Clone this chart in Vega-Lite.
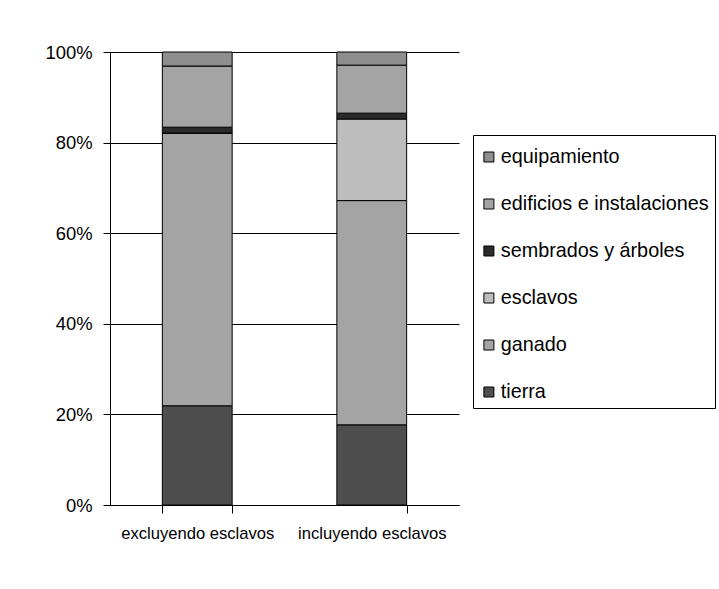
{
  "$schema": "https://vega.github.io/schema/vega-lite/v6.json",
  "width": 349,
  "height": 453,
  "autosize": "none",
  "padding": {"left": 110, "top": 52, "right": 260, "bottom": 84},
  "background": "white",
  "config": {
    "view": {"stroke": null},
    "font": "Liberation Sans, Arial, sans-serif"
  },
  "data": {
    "values": [
      {"grupo": "excluyendo esclavos", "categoria": "tierra", "orden": 1, "valor": 21.9},
      {"grupo": "excluyendo esclavos", "categoria": "ganado", "orden": 2, "valor": 60.2},
      {"grupo": "excluyendo esclavos", "categoria": "esclavos", "orden": 3, "valor": 0},
      {"grupo": "excluyendo esclavos", "categoria": "sembrados y árboles", "orden": 4, "valor": 1.3},
      {"grupo": "excluyendo esclavos", "categoria": "edificios e instalaciones", "orden": 5, "valor": 13.5},
      {"grupo": "excluyendo esclavos", "categoria": "equipamiento", "orden": 6, "valor": 3.1},
      {"grupo": "incluyendo esclavos", "categoria": "tierra", "orden": 1, "valor": 17.7},
      {"grupo": "incluyendo esclavos", "categoria": "ganado", "orden": 2, "valor": 49.5},
      {"grupo": "incluyendo esclavos", "categoria": "esclavos", "orden": 3, "valor": 18.0},
      {"grupo": "incluyendo esclavos", "categoria": "sembrados y árboles", "orden": 4, "valor": 1.3},
      {"grupo": "incluyendo esclavos", "categoria": "edificios e instalaciones", "orden": 5, "valor": 10.6},
      {"grupo": "incluyendo esclavos", "categoria": "equipamiento", "orden": 6, "valor": 2.9}
    ]
  },
  "mark": {"type": "bar", "stroke": "black", "strokeWidth": 1},
  "encoding": {
    "x": {
      "field": "grupo",
      "type": "nominal",
      "sort": ["excluyendo esclavos", "incluyendo esclavos"],
      "scale": {"paddingInner": 0.6, "paddingOuter": 0.3},
      "axis": {
        "title": null,
        "labelAngle": 0,
        "labelLimit": 0,
        "tickBand": "extent",
        "domainColor": "black",
        "tickColor": "black",
        "tickSize": 8,
        "labelFontSize": 16.6,
        "labelColor": "black",
        "labelPadding": 12
      }
    },
    "y": {
      "field": "valor",
      "type": "quantitative",
      "stack": "normalize",
      "scale": {"domain": [0, 1]},
      "axis": {
        "title": null,
        "values": [0, 0.2, 0.4, 0.6, 0.8, 1],
        "format": ".0%",
        "grid": true,
        "gridColor": "black",
        "gridOpacity": 1,
        "domainColor": "black",
        "tickColor": "black",
        "tickSize": 7,
        "labelFontSize": 18.4,
        "labelColor": "black",
        "labelPadding": 11
      }
    },
    "order": {"field": "orden", "type": "quantitative", "sort": "ascending"},
    "fill": {
      "field": "categoria",
      "type": "nominal",
      "scale": {
        "domain": ["equipamiento", "edificios e instalaciones", "sembrados y árboles", "esclavos", "ganado", "tierra"],
        "range": ["#8e8e8e", "#a4a4a4", "#2a2a2a", "#bdbdbd", "#a4a4a4", "#4e4e4e"]
      },
      "legend": {
        "title": " ",
        "titleFontSize": 6,
        "titlePadding": 3,
        "orient": "none",
        "legendX": 363,
        "legendY": 83,
        "strokeColor": "black",
        "fillColor": "white",
        "padding": 6,
        "clipHeight": 14,
        "symbolType": "square",
        "symbolSize": 100,
        "symbolStrokeColor": "black",
        "symbolStrokeWidth": 1,
        "labelFontSize": 19.8,
        "labelLimit": 0,
        "labelColor": "black",
        "labelOffset": 2,
        "rowPadding": 27
      }
    }
  }
}
